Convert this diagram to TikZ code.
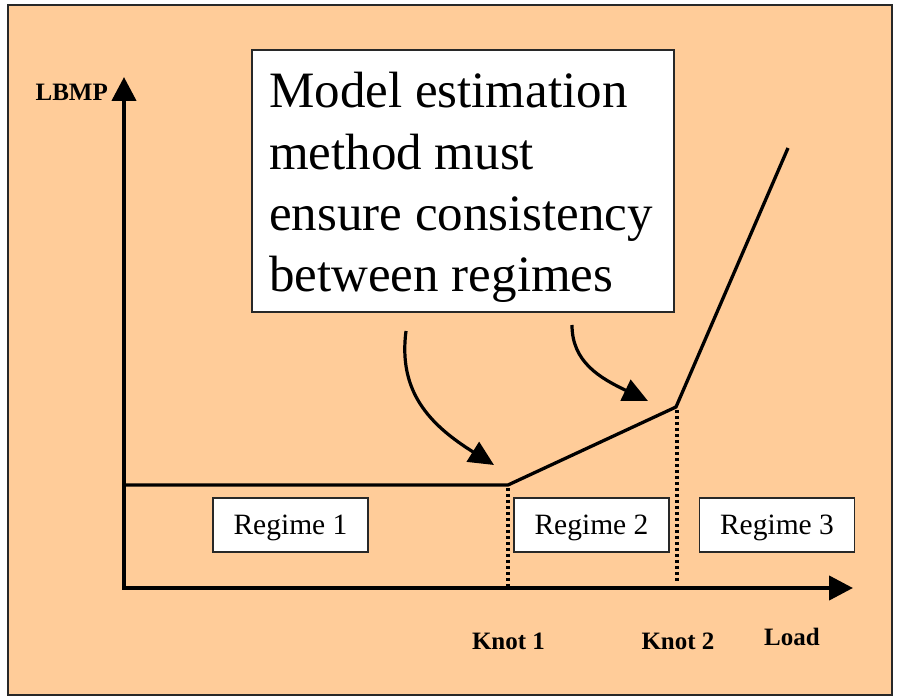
\documentclass[tikz,border=0pt]{standalone}
\usepackage{fontspec}
\setmainfont{Liberation Serif}
\usetikzlibrary{arrows.meta}
\definecolor{peach}{RGB}{255,204,153}
\definecolor{framegray}{RGB}{40,40,40}
\tikzset{
  axis/.style={line width=4.3pt, -{Triangle[length=24pt,width=24pt]}},
  curve/.style={line width=3.2pt, -{Triangle[length=25pt,width=23pt]}},
  knotline/.style={line width=3.5pt, dash pattern=on 3pt off 3pt},
  regimebox/.style={draw=framegray, line width=1.3pt, fill=white, rectangle,
    minimum width=155pt, minimum height=54pt, inner sep=0pt,
    text height=26pt, text depth=6pt, font=\fontsize{29.5}{32}\selectfont},
  axislabel/.style={inner sep=0pt, font=\fontsize{25}{28}\selectfont\bfseries}
}
\begin{document}
\begin{tikzpicture}[x=1pt,y=-1pt]
  \useasboundingbox (0,0) rectangle (898,700);
  % panel background
  \draw[framegray, line width=1.5pt, fill=peach] (8,5) rectangle (892,695);

  % axes
  \coordinate (origin) at (124,588);
  \coordinate (ytip) at (124,77);
  \coordinate (xtip) at (853,588);
  \draw[axis] (124,590) -- (ytip);
  \draw[axis] (122,588) -- (xtip);

  % piecewise-linear price curve
  \coordinate (start) at (124,485);
  \coordinate (knotA) at (508,485);
  \coordinate (knotB) at (676,407);
  \coordinate (finish) at (788,148);
  \draw[line width=3.3pt, line join=miter] (start) -- (knotA) -- (knotB) -- (finish);

  % knot markers
  \coordinate (knotAbase) at (508,586);
  \coordinate (knotBbase) at (677,583);
  \draw[knotline] (508,488) -- (knotAbase);
  \draw[knotline] (677,410) -- (knotBbase);

  % regime labels
  \node[regimebox] (r1) at (290.5,525) {Regime 1};
  \node[regimebox] (r2) at (591.5,525) {Regime 2};
  \node[regimebox] (r3) at (777,525) {Regime 3};

  % axis and knot labels
  \node[axislabel, anchor=base east] (ylab) at (108,101) {LBMP};
  \node[axislabel, anchor=base] (k1) at (508.5,649) {Knot 1};
  \node[axislabel, anchor=base] (k2) at (678,649) {Knot 2};
  \node[axislabel, anchor=base] (xlab) at (792,645) {Load};

  % note box
  \node[draw=framegray, line width=1.5pt, fill=white, rectangle, inner sep=0pt,
        minimum width=422pt, minimum height=262pt] (note) at (463,181) {};
  \node[anchor=north west, inner sep=0pt, align=left,
        font=\fontsize{51}{61.3}\selectfont] (notetext) at (269,72.2)
        {Model estimation\\method must\\ensure consistency\\between regimes};

  % pointers from the note to the knots
  \coordinate (p1) at (406,331);
  \coordinate (t1) at (494,465);
  \coordinate (p2) at (572,325);
  \coordinate (t2) at (648,401);
  \draw[curve] (p1) .. controls (398,392) and (430,425) .. (t1);
  \draw[curve] (p2) .. controls (572,362) and (600,378) .. (t2);
\end{tikzpicture}
\end{document}
